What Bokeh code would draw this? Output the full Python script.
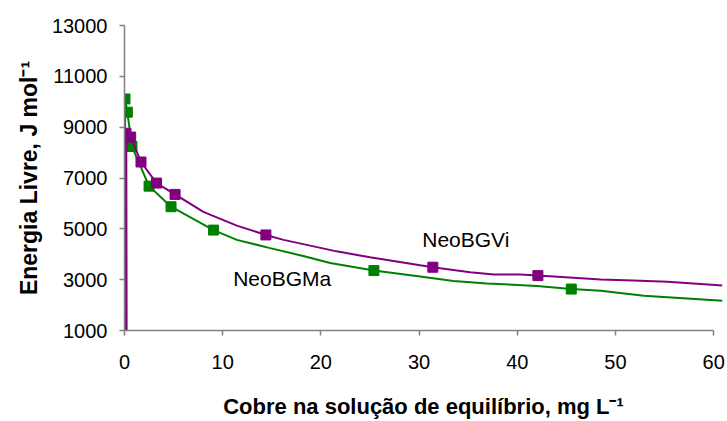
from bokeh.plotting import figure
from bokeh.models import Range1d, FixedTicker, Label
from bokeh.embed import file_html
from bokeh.resources import INLINE

# ---- data ----
ma_marker_x = [0.05, 0.29, 0.76, 2.5, 4.74, 9.07, 25.4, 45.5]
ma_marker_y = [10110, 9590, 8240, 6680, 5870, 4950, 3360, 2630]
vi_marker_x = [0.15, 0.63, 1.68, 3.26, 5.15, 14.4, 31.4, 42.1]
vi_marker_y = [8760, 8610, 7630, 6800, 6355, 4760, 3490, 3160]

ma_line_x = [0.06, 0.06, 0.29, 0.76, 2.5, 4.74, 9.07, 11.44, 14.83, 18.2, 20.95, 25.4,
             30.1, 33.5, 36.9, 42.0, 45.5, 48.5, 52.9, 56.9, 60.9]
ma_line_y = [0, 10110, 9590, 8240, 6680, 5870, 4950, 4565, 4242, 3931, 3659, 3360,
             3125, 2946, 2853, 2751, 2630, 2565, 2370, 2269, 2167]
vi_line_x = [0.22, 0.18, 0.63, 1.68, 3.26, 5.15, 8.03, 11.44, 14.4, 16.2, 18.2, 21.6, 25.0,
             30.1, 31.4, 35.2, 37.6, 40.3, 42.1, 48.5, 51.8, 55.3, 60.9]
vi_line_y = [0, 8760, 8610, 7630, 6800, 6355, 5670, 5126, 4760, 4565, 4398, 4114, 3880,
             3569, 3490, 3296, 3203, 3203, 3160, 3008, 2969, 2919, 2775]

x_ticks = [0, 10, 20, 30, 40, 50, 60]
y_ticks = [1000, 3000, 5000, 7000, 9000, 11000, 13000]

GREEN = "#008000"
PURPLE = "#800080"
FONT = "Liberation Sans"

p = figure(width=727, height=421, output_backend="svg", toolbar_location=None,
           x_range=Range1d(0, 60.9), y_range=Range1d(1000, 13000),
           min_border_left=124, min_border_right=5, min_border_top=25, min_border_bottom=88)
p.outline_line_color = None
p.xgrid.visible = False
p.ygrid.visible = False
p.background_fill_color = "white"
p.border_fill_color = "white"

for ax in (p.xaxis[0], p.yaxis[0]):
    ax.axis_line_color = "#808080"
    ax.axis_line_width = 1.5
    ax.major_tick_line_color = "#808080"
    ax.major_tick_line_width = 1.5
    ax.major_tick_in = 0
    ax.major_tick_out = 5
    ax.minor_tick_line_color = None
    ax.major_label_text_font = FONT
    ax.major_label_text_font_size = "20px"
    ax.major_label_text_color = "black"
    ax.axis_label_text_font = FONT
    ax.axis_label_text_font_style = "bold"
    ax.axis_label_text_color = "black"

p.xaxis[0].axis_label_text_font_size = "22px"
p.yaxis[0].axis_label_text_font_size = "23px"
p.xaxis[0].ticker = FixedTicker(ticks=x_ticks)
p.yaxis[0].ticker = FixedTicker(ticks=y_ticks)
p.xaxis[0].bounds = (0, 60)
p.xaxis[0].major_label_standoff = 19
p.yaxis[0].major_label_standoff = 12
p.xaxis[0].axis_label = "Cobre na solução de equilíbrio, mg L\u207b\u00b9"
p.yaxis[0].axis_label = "Energia Livre, J mol\u207b\u00b9"
p.xaxis[0].axis_label_standoff = 22
p.yaxis[0].axis_label_standoff = 7

p.line(ma_line_x, ma_line_y, line_color=GREEN, line_width=2)
p.scatter(ma_marker_x, ma_marker_y, marker="square", size=10, fill_color=GREEN, line_color=GREEN)
p.line(vi_line_x, vi_line_y, line_color=PURPLE, line_width=2)
p.scatter(vi_marker_x, vi_marker_y, marker="square", size=10, fill_color=PURPLE, line_color=PURPLE)

p.add_layout(Label(x=34.76, y=4592, text="NeoBGVi", text_font=FONT, text_font_size="21px",
                   text_align="center", text_baseline="middle", text_color="black"))
p.add_layout(Label(x=16.06, y=3035, text="NeoBGMa", text_font=FONT, text_font_size="21px",
                   text_align="center", text_baseline="middle", text_color="black"))

open("out.html", "w").write(file_html(p, INLINE))
